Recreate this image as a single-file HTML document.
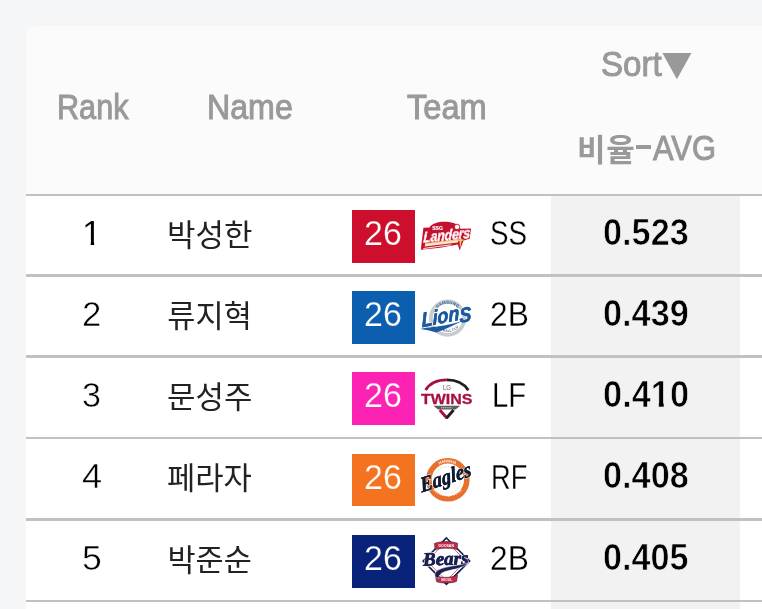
<!DOCTYPE html>
<html lang="ko"><head><meta charset="utf-8"><title>Player Ranking</title>
<style>
html,body{margin:0;padding:0}
body{width:762px;height:609px;overflow:hidden;background:#f5f6f8;position:relative;font-family:"Liberation Sans", sans-serif}
.card{position:absolute;left:26px;top:26px;width:756px;height:609px;background:#fff;border-top-left-radius:10px;overflow:hidden}
.hdr{position:absolute;left:0;top:0;width:100%;height:168px;background:#fbfbfb}
.shade{position:absolute;left:525px;top:168px;width:189px;height:609px;background:#f2f2f2}
.sep{position:absolute;left:0;width:100%;background:#c1c1c1}
.abs{position:absolute;left:0;top:0;width:762px;height:609px;will-change:transform}
.t{position:absolute;line-height:1;white-space:nowrap;transform-origin:0 0;font-family:"Liberation Sans", sans-serif}
.k{position:absolute;display:block;overflow:visible}
.k text{font-family:"Liberation Sans", "Noto Sans CJK KR", sans-serif}
.badge{position:absolute;left:352px;width:63px}
.logo{position:absolute;display:block;overflow:visible}
</style></head>
<body>
<div class="card"><div class="hdr"></div><div class="shade"></div>
<div class="sep" style="top:168px;height:2px"></div><div class="sep" style="top:248px;height:3px"></div><div class="sep" style="top:329px;height:3px"></div><div class="sep" style="top:411px;height:2px"></div><div class="sep" style="top:492px;height:3px"></div><div class="sep" style="top:574px;height:2px"></div></div>
<div class="abs">
<!-- header -->
<span class="t " style="left:57.41px;top:89.0px;font-size:35px;color:#999999;transform:scaleX(0.8749);-webkit-text-stroke:1px #999999;">Rank</span>
<span class="t " style="left:206.93px;top:89.0px;font-size:35px;color:#999999;transform:scaleX(0.9190);-webkit-text-stroke:1px #999999;">Name</span>
<span class="t " style="left:407.35px;top:89.0px;font-size:35px;color:#999999;transform:scaleX(0.9322);-webkit-text-stroke:1px #999999;">Team</span>
<span class="t " style="left:601.35px;top:46.0px;font-size:35px;color:#999999;transform:scaleX(0.9454);-webkit-text-stroke:1px #999999;">Sort</span>
<svg class="logo" style="left:660px;top:50px" width="34" height="32" viewBox="660 50 34 32"><polygon points="662.4,53 691.4,53 676.9,79.3" fill="#999999"/></svg>
<svg class="k" role="img" aria-label="비율" style="left:578px;top:133px" width="58" height="33" viewBox="30.6 -870.0 1795.7 1021.7" fill="#999999"><text x="0 905" y="0" font-size="960" font-weight="700" fill="#999999">비율</text></svg>
<div style="position:absolute;left:636.2px;top:145.1px;width:14.7px;height:3.6px;background:#999999"></div>
<span class="t " style="left:652.80px;top:130.0px;font-size:35px;color:#999999;transform:scaleX(0.8819);-webkit-text-stroke:1px #999999;">AVG</span>
<!-- row 1 -->
<span class="t " style="left:81.97px;top:215.0px;font-size:35px;color:#000;transform:scaleX(1.0087);-webkit-text-stroke:0.15px #fff;clip-path:polygon(0 0,.36em 0,.36em .73em,.344em .73em,.344em 1em,.247em 1em,.247em .73em,0 .73em);">1</span>
<svg class="k" role="img" aria-label="박성한" style="left:168px;top:218px" width="86" height="32" viewBox="31.2 -858.7 2670.8 993.8" fill="#222"><text x="0 886 1772" y="0" font-size="960" fill="#222">박성한</text></svg>
<div class="badge" style="top:210px;height:53px;background:#ce0e2d"></div><span class="t " style="left:364.48px;top:215.0px;font-size:35px;color:#fff;transform:scaleX(0.9706);-webkit-text-stroke:0.25px #ce0e2d;">26</span>
<svg class="logo" style="left:414px;top:200px" width="66" height="64" viewBox="414 200 66 64">
<path d="M420.8 249.8 L423.4 227.8 L429.6 227.4 C432.6 221.4 447 220.2 455 223.6 L460.8 228.8 L471 228.6 L469.7 238.8 L463.6 240.6 L459.7 250.6 L457.8 244.4 L440 247.8 Z" fill="#c5112e"/>
<path d="M425.2 243.6 L458.4 239.6 L458 242.6 L424.7 246.6 Z" fill="#fbe6cc"/>
<path d="M425.3 243.7 L458.4 239.7" stroke="#f2c46d" stroke-width="1" fill="none"/>
<path d="M423.4 248.5 L451 244.8" stroke="#fff" stroke-width="0.9" fill="none"/>
<path d="M460.5 236 L461.5 239.2 L465.2 240 L461.7 241.1 L460 249 L459.6 241.3 L456.4 240.5 L459.5 239.5 Z" fill="#f2c46d"/>
<circle cx="457.1" cy="226.9" r="2.7" fill="#fff" stroke="#c5112e" stroke-width="0.9"/>
<text x="432.2" y="230.2" font-family="Liberation Sans" font-weight="700" font-size="5" fill="#fff" stroke="#fff" stroke-width="0.15" textLength="10.6" lengthAdjust="spacingAndGlyphs">SSG</text>
<text transform="translate(423.2 242.6) rotate(-5.8) skewX(-8)" font-family="Liberation Sans" font-weight="700" font-style="italic" font-size="15" fill="#fff" stroke="#fff" stroke-width="0.6" textLength="47" lengthAdjust="spacingAndGlyphs">Landers</text>
<text transform="translate(423.2 242.6) rotate(-5.8) skewX(-8)" font-family="Liberation Sans" font-weight="700" font-style="italic" font-size="15" fill="#fff" stroke="#d4475c" stroke-width="0.25" textLength="47" lengthAdjust="spacingAndGlyphs">Landers</text>
</svg>
<span class="t " style="left:490.36px;top:215.0px;font-size:35px;color:#000;transform:scaleX(0.7926);-webkit-text-stroke:0.3px #fff;">SS</span>
<span class="t " style="left:602.98px;top:214.5px;font-size:36px;color:#000;transform:scaleX(0.9522);font-weight:700;-webkit-text-stroke:0.7px #f2f2f2;">0.523</span>
<!-- row 2 -->
<span class="t " style="left:82.01px;top:296.0px;font-size:35px;color:#000;transform:scaleX(0.9938);-webkit-text-stroke:0.5px #fff;">2</span>
<svg class="k" role="img" aria-label="류지혁" style="left:167px;top:299px" width="84" height="32" viewBox="-9.6 -866.5 2608.7 993.8" fill="#222"><text x="0 875 1750" y="0" font-size="950" fill="#222">류지혁</text></svg>
<div class="badge" style="top:291px;height:53px;background:#0b5fae"></div><span class="t " style="left:364.48px;top:296.0px;font-size:35px;color:#fff;transform:scaleX(0.9706);-webkit-text-stroke:0.25px #0b5fae;">26</span>
<svg class="logo" style="left:414px;top:281px" width="66" height="64" viewBox="414 281 66 64">
<circle cx="447.6" cy="318.2" r="16.7" fill="#fff" stroke="#c9cbce" stroke-width="3.8"/>
<defs><path id="lt" d="M435.4 311.4 A13.6 13.6 0 0 1 459.8 311.4"/><path id="lb" d="M437.4 327.6 A14.6 14.6 0 0 0 458 327.6"/></defs>
<text font-family="Liberation Sans" font-weight="700" font-size="4.4" fill="#2f5f98"><textPath href="#lt" startOffset="50%" text-anchor="middle">SAMSUNG</textPath></text>
<text font-family="Liberation Sans" font-weight="700" font-size="3.4" fill="#44709f"><textPath href="#lb" startOffset="50%" text-anchor="middle">BASEBALL CLUB</textPath></text>
<text transform="translate(422 327.2) rotate(-11) skewX(-8)" font-family="Liberation Sans" font-weight="700" font-style="italic" font-size="20.5" fill="#1c5a9e" stroke="#fff" stroke-width="1.4" paint-order="stroke" textLength="50.5" lengthAdjust="spacingAndGlyphs">Lion<tspan dy="3.2">S</tspan></text>
<text transform="translate(422 327.2) rotate(-11) skewX(-8)" font-family="Liberation Sans" font-weight="700" font-style="italic" font-size="20.5" fill="#1c5a9e" stroke="#1c5a9e" stroke-width="0.5" textLength="50.5" lengthAdjust="spacingAndGlyphs">Lion<tspan dy="3.2">S</tspan></text>
<path d="M420.2 329 L426 327.8 C440 327 452 324.4 462.6 320.8 C453 325.8 444 329.6 436.4 332.6 L428 330.2 Z" fill="#1c5a9e"/>
</svg>
<span class="t " style="left:490.17px;top:296.0px;font-size:35px;color:#000;transform:scaleX(0.9056);-webkit-text-stroke:0.3px #fff;">2B</span>
<span class="t " style="left:602.98px;top:295.5px;font-size:36px;color:#000;transform:scaleX(0.9522);font-weight:700;-webkit-text-stroke:0.7px #f2f2f2;">0.439</span>
<!-- row 3 -->
<span class="t " style="left:82.39px;top:377.0px;font-size:35px;color:#000;transform:scaleX(0.9726);-webkit-text-stroke:0.5px #fff;">3</span>
<svg class="k" role="img" aria-label="문성주" style="left:167px;top:380px" width="86" height="32" viewBox="2.4 -861.8 2670.8 993.8" fill="#222"><text x="0 886 1772" y="0" font-size="960" fill="#222">문성주</text></svg>
<div class="badge" style="top:372px;height:53px;background:#fb22b4"></div><span class="t " style="left:364.48px;top:377.0px;font-size:35px;color:#fff;transform:scaleX(0.9706);-webkit-text-stroke:0.25px #fb22b4;">26</span>
<svg class="logo" style="left:414px;top:362px" width="66" height="64" viewBox="414 362 66 64">
<path d="M425.6 390.2 C429.5 383.4 437.5 379.9 446.8 379.9" stroke="#a5113f" stroke-width="2.7" fill="none"/>
<path d="M446.8 379.9 C456 379.9 464 383.4 468.3 390.2" stroke="#231f20" stroke-width="2.7" fill="none"/>
<text x="447" y="390.2" text-anchor="middle" font-family="Liberation Sans" font-size="7.2" fill="#555" textLength="8" lengthAdjust="spacingAndGlyphs">LG</text>
<text x="420.9" y="403.8" font-family="Liberation Sans" font-weight="700" font-size="15" fill="#a5113f" stroke="#a5113f" stroke-width="0.3" textLength="51.4" lengthAdjust="spacingAndGlyphs">TWINS</text>
<path d="M433.4 405.8 L460.2 405.8 L455.6 409.6 L438 409.6 Z" fill="#5c5c5f"/>
<path d="M441.2 407.7 H452.4" stroke="#d9d9d9" stroke-width="1.1" stroke-dasharray="1.1 0.7"/>
<path d="M439.8 410 L447 418.2" stroke="#a5113f" stroke-width="2.9" fill="none"/>
<path d="M453.6 410 L446.4 418.2" stroke="#231f20" stroke-width="2.9" fill="none"/>
</svg>
<span class="t " style="left:492.41px;top:377.0px;font-size:35px;color:#000;transform:scaleX(0.8354);-webkit-text-stroke:0.3px #fff;">LF</span>
<span class="t " style="left:602.97px;top:376.5px;font-size:36px;color:#000;transform:scaleX(0.9562);font-weight:700;-webkit-text-stroke:0.7px #f2f2f2;">0.4<span style="display:inline-block;clip-path:polygon(0 0,.39em 0,.39em .7em,.373em .7em,.373em 1em,.232em 1em,.232em .7em,0 .7em)">1</span>0</span>
<!-- row 4 -->
<span class="t " style="left:82.34px;top:458.0px;font-size:35px;color:#000;transform:scaleX(1.0336);-webkit-text-stroke:0.5px #fff;">4</span>
<svg class="k" role="img" aria-label="페라자" style="left:167px;top:460px" width="87" height="33" viewBox="3.2 -886.6 2701.9 1024.8" fill="#222"><text x="0 880 1759" y="0" font-size="955" fill="#222">페라자</text></svg>
<div class="badge" style="top:454px;height:52px;background:#f37321"></div><span class="t " style="left:364.48px;top:459.0px;font-size:35px;color:#fff;transform:scaleX(0.9706);-webkit-text-stroke:0.25px #f37321;">26</span>
<svg class="logo" style="left:414px;top:443px" width="66" height="64" viewBox="414 443 66 64">
<circle cx="447.8" cy="479.8" r="19" fill="#fff" stroke="#e7702d" stroke-width="5.6"/>
<circle cx="447.5" cy="479.8" r="13.2" fill="none" stroke="#e4e4e4" stroke-width="1.2" stroke-dasharray="1.5 1.2"/>
<defs><path id="et" d="M431.6 472.6 A17.5 17.5 0 0 1 463.4 472.6"/><path id="eb" d="M430.4 486.4 A19.6 19.6 0 0 0 464.6 486.4"/></defs>
<text font-family="Liberation Sans" font-weight="700" font-size="3.8" fill="#fff"><textPath href="#et" startOffset="50%" text-anchor="middle">HANWHA</textPath></text>
<text font-family="Liberation Sans" font-weight="700" font-size="3.8" fill="#fff"><textPath href="#eb" startOffset="50%" text-anchor="middle">BASEBALL CLUB</textPath></text>
<text transform="translate(421.8 492.6) rotate(-18.5) skewX(-8)" font-family="Liberation Serif" font-weight="700" font-style="italic" font-size="21.5" fill="#0f1b33" stroke="#fff" stroke-width="1.4" paint-order="stroke" textLength="53" lengthAdjust="spacingAndGlyphs">Eagles</text>
<text transform="translate(421.8 492.6) rotate(-18.5) skewX(-8)" font-family="Liberation Serif" font-weight="700" font-style="italic" font-size="21.5" fill="#0f1b33" stroke="#0f1b33" stroke-width="0.45" textLength="53" lengthAdjust="spacingAndGlyphs">Eagles</text>
</svg>
<span class="t " style="left:491.47px;top:459.0px;font-size:35px;color:#000;transform:scaleX(0.7769);-webkit-text-stroke:0.3px #fff;">RF</span>
<span class="t " style="left:602.98px;top:457.5px;font-size:36px;color:#000;transform:scaleX(0.9522);font-weight:700;-webkit-text-stroke:0.7px #f2f2f2;">0.408</span>
<!-- row 5 -->
<span class="t " style="left:82.05px;top:540.0px;font-size:35px;color:#000;transform:scaleX(1.0152);-webkit-text-stroke:0.5px #fff;">5</span>
<svg class="k" role="img" aria-label="박준순" style="left:169px;top:543px" width="84" height="32" viewBox="49.8 -861.8 2608.7 993.8" fill="#222"><text x="0 875 1750" y="0" font-size="950" fill="#222">박준순</text></svg>
<div class="badge" style="top:535px;height:53px;background:#09237a"></div><span class="t " style="left:364.48px;top:540.0px;font-size:35px;color:#fff;transform:scaleX(0.9706);-webkit-text-stroke:0.25px #09237a;">26</span>
<svg class="logo" style="left:414px;top:524px" width="66" height="64" viewBox="414 524 66 64">
<path d="M446.4 538 L469.6 561 L446.4 584.2 L423.2 561 Z" fill="#fff" stroke="#1c2050" stroke-width="1.7"/>
<path d="M446.4 541.4 L466 561 L446.4 580.6 L426.8 561 Z" fill="none" stroke="#c52a41" stroke-width="0.7"/>
<path d="M434.4 543.4 C441 541 451 541 457.6 543.2 L457.2 549.6 C451 547.8 441 547.8 435 549.8 Z" fill="#c52a41" stroke="#1c2050" stroke-width="0.5"/>
<text x="446.2" y="547.3" text-anchor="middle" font-family="Liberation Sans" font-weight="700" font-size="4.3" fill="#fff" textLength="15.5" lengthAdjust="spacingAndGlyphs">DOOSAN</text>
<path d="M435.4 575.8 C441 578 451 578 457.6 575 L456.6 581.4 C451 583.6 442 583.6 436.6 581.8 Z" fill="#c52a41" stroke="#1c2050" stroke-width="0.5"/>
<text x="446.6" y="581.2" text-anchor="middle" font-family="Liberation Sans" font-weight="700" font-size="4.3" fill="#fff" textLength="11" lengthAdjust="spacingAndGlyphs">SEOUL</text>
<path d="M424 553 H468 V569 H424 Z" fill="#fff" opacity="0.0"/>
<text transform="translate(423.2 565.8) rotate(-2)" font-family="Liberation Serif" font-weight="700" font-style="italic" font-size="19" fill="#1c2050" stroke="#fff" stroke-width="1.6" paint-order="stroke" textLength="45.5" lengthAdjust="spacingAndGlyphs">Bears</text>
<text transform="translate(423.2 565.8) rotate(-2)" font-family="Liberation Serif" font-weight="700" font-style="italic" font-size="19" fill="#1c2050" stroke="#1c2050" stroke-width="0.7" textLength="45.5" lengthAdjust="spacingAndGlyphs">Bears</text>
<path d="M468.8 562.6 C458 566.4 441 565.6 435.6 572.4 C433.6 575.4 435.6 578 439 578.4 C438.4 574.6 442 572.2 448 570.8 C456 569 464 567.6 468.8 562.6 Z" fill="#1c2050" stroke="#fff" stroke-width="0.5"/>
</svg>
<span class="t " style="left:490.17px;top:540.0px;font-size:35px;color:#000;transform:scaleX(0.9056);-webkit-text-stroke:0.3px #fff;">2B</span>
<span class="t " style="left:602.98px;top:539.5px;font-size:36px;color:#000;transform:scaleX(0.9483);font-weight:700;-webkit-text-stroke:0.7px #f2f2f2;">0.405</span>
</div>
</body></html>
